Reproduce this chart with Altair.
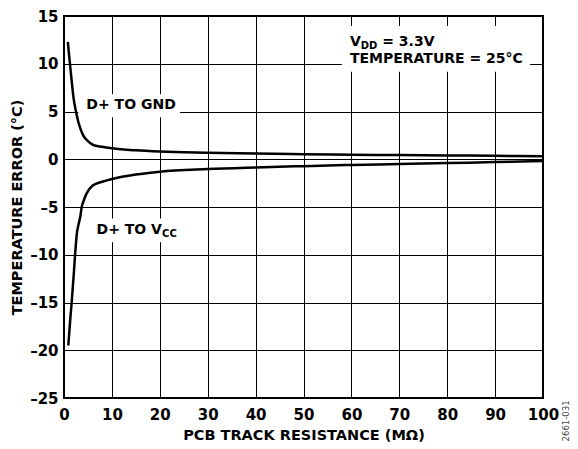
import altair as alt
import pandas as pd

# PCB track resistance (MOhm) and temperature error (degC)
res_gnd = [0.8, 1.0, 1.5, 2.0, 2.5, 3.0, 3.5, 4.0, 5.0, 6.0, 8.0, 10, 15, 20, 30, 40, 50, 60, 70, 80, 90, 100]
err_gnd = [12.3, 11.2, 8.7, 6.4, 5.0, 3.9, 3.1, 2.5, 1.9, 1.52, 1.3, 1.15, 0.93, 0.8, 0.68, 0.6, 0.53, 0.48, 0.44, 0.4, 0.36, 0.31]

res_vcc = [0.9, 1.3, 1.6, 2.0, 2.3, 2.7, 3.0, 3.4, 3.7, 4.0, 4.7, 6.0, 8.0, 10, 15, 20, 30, 40, 50, 60, 70, 80, 90, 100]
err_vcc = [-19.5, -16.8, -15.0, -12.3, -10.1, -7.7, -6.9, -6.0, -5.0, -4.5, -3.6, -2.75, -2.35, -2.07, -1.6, -1.3, -1.03, -0.86, -0.72, -0.6, -0.5, -0.4, -0.3, -0.19]

x_ticks = list(range(0, 101, 10))
y_ticks = list(range(-25, 16, 5))

FONT = "DejaVu Sans"

df = pd.concat([
    pd.DataFrame({"r": res_gnd, "e": err_gnd, "s": "gnd"}),
    pd.DataFrame({"r": res_vcc, "e": err_vcc, "s": "vcc"}),
])
one = pd.DataFrame({"k": [0]})

xs = alt.Scale(domain=[0, 100], nice=False)
ys = alt.Scale(domain=[-25, 15], nice=False)

lines = alt.Chart(df).mark_line(color="black", strokeWidth=2.5, interpolate="monotone").encode(
    x=alt.X("r:Q", scale=xs, axis=alt.Axis(
        values=x_ticks, title="PCB TRACK RESISTANCE (MΩ)", labelPadding=9, titlePadding=6,
        labelFlush=False)),
    y=alt.Y("e:Q", scale=ys, axis=alt.Axis(
        values=y_ticks, title="TEMPERATURE ERROR (°C)", labelPadding=6, titlePadding=5,
        labelFlush=False,
        labelExpr="datum.value < 0 ? '–' + abs(datum.value) : datum.label")),
    detail="s:N",
)

def box(x1, x2, y1, y2):
    return alt.Chart(one).mark_rect(color="white").encode(
        x=alt.datum(x1, scale=xs), x2=alt.datum(x2),
        y=alt.datum(y1, scale=ys), y2=alt.datum(y2))

def txt(t, x, y, size=14, dx=0, dy=0, align="left", weight="bold", angle=0, color="black"):
    kw = dict(text=t, font=FONT, fontSize=size, fontWeight=weight, align=align,
              baseline="middle", dx=dx, dy=dy, color=color)
    if angle:
        kw["angle"] = angle
    return alt.Chart(one).mark_text(**kw).encode(
        x=alt.datum(x, scale=xs), y=alt.datum(y, scale=ys))

boxes = [
    box(3.0, 24.2, 4.4, 6.8),
    box(5.4, 24.5, -6.2, -8.7),
    box(58.0, 97.3, 9.17, 13.95),
]

texts = [
    txt("D+ TO GND", 14.0, 5.68, align="center"),
    txt("D+ TO V", 6.8, -7.41),
    txt("CC", 6.8, -7.41, size=10, dx=65.5, dy=4),
    txt("V", 59.7, 12.31),
    txt("DD", 59.7, 12.31, size=10, dx=10.8, dy=4),
    txt("= 3.3V", 59.7, 12.31, dx=32.3),
    txt("TEMPERATURE = 25°C", 59.7, 10.47),
    txt("2661-031", 104.8, -27.4, size=8.5, weight="normal", align="center", angle=270, color="#444444"),
]

chart = alt.layer(*boxes, *texts, lines).properties(
    width=479, height=382,
    autosize=alt.AutoSizeParams(type="none"),
    padding={"left": 56, "top": 8, "right": 27, "bottom": 44},
).configure_view(
    stroke="black", strokeWidth=2
).configure_axis(
    grid=True, gridColor="black", gridWidth=1, gridOpacity=1,
    ticks=False, domain=False,
    labelFont=FONT, labelFontSize=15, labelFontWeight="bold", labelColor="black",
    titleFont=FONT, titleFontSize=14.5, titleFontWeight="bold", titleColor="black",
)

chart.save("out.html", embed_options={"renderer": "svg", "actions": False})
